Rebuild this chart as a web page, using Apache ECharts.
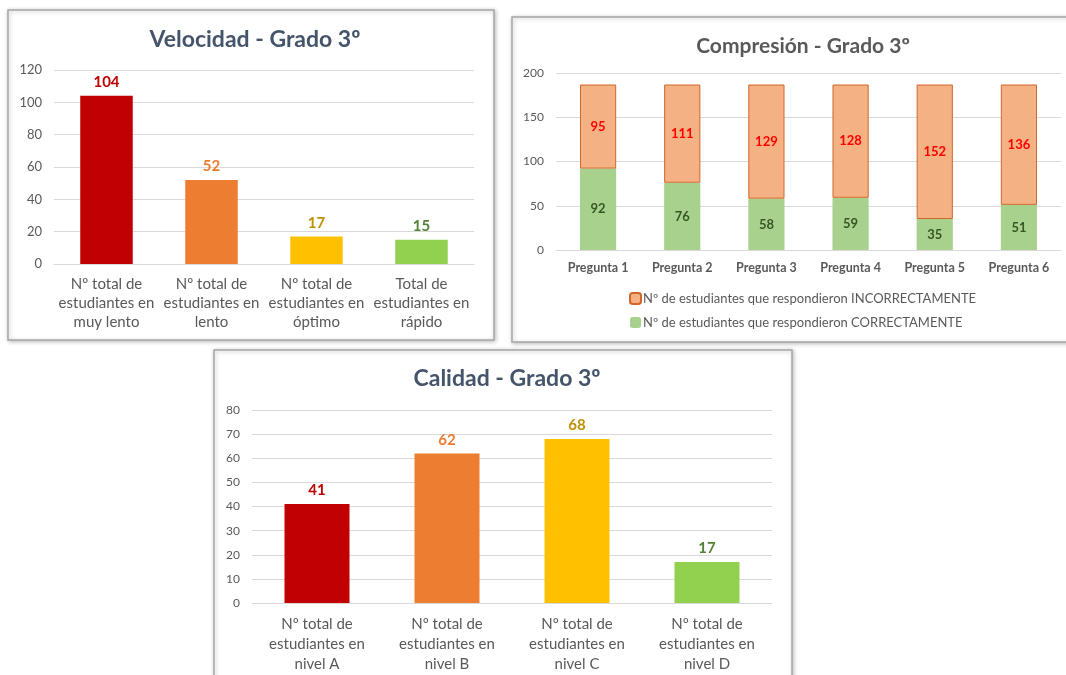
<!DOCTYPE html>
<html>
<head>
<meta charset="utf-8">
<script src="https://cdn.jsdelivr.net/npm/echarts@6/dist/echarts.min.js"></script>
<style>
  html, body { margin: 0; padding: 0; background: #fff; }
  #main { width: 1066px; height: 675px; }
</style>
</head>
<body>
<div id="main"></div>
<script>
// Velocidad - Grado 3º
const velCategories = [
  "Nº total de\nestudiantes en\nmuy lento",
  "Nº total de\nestudiantes en\nlento",
  "Nº total de\nestudiantes en\nóptimo",
  "Total de\nestudiantes en\nrápido"
];
const velValues = [104, 52, 17, 15];

// Compresión - Grado 3º
const compCategories = ["Pregunta 1", "Pregunta 2", "Pregunta 3", "Pregunta 4", "Pregunta 5", "Pregunta 6"];
const compCorrect = [92, 76, 58, 59, 35, 51];
const compIncorrect = [95, 111, 129, 128, 152, 136];
const compNames = [
  "Nº de estudiantes que respondieron INCORRECTAMENTE",
  "Nº de estudiantes que respondieron CORRECTAMENTE"
];

// Calidad - Grado 3º
const calCategories = [
  "Nº total de\nestudiantes en\nnivel A",
  "Nº total de\nestudiantes en\nnivel B",
  "Nº total de\nestudiantes en\nnivel C",
  "Nº total de\nestudiantes en\nnivel D"
];
const calValues = [41, 62, 68, 17];

// colores (rojo, naranja, amarillo, verde)
const barColors = ["#C00000", "#ED7D31", "#FFC000", "#92D050"];
const labelColors = ["#C00000", "#ED7D31", "#BF9000", "#548235"];

const FONT = "Lato, 'Open Sans', sans-serif";
const AXIS_TEXT = "#595959";
const GRID_LINE = "#D9D9D9";

const myChart = echarts.init(document.getElementById("main"));

function coloredData(values) {
  return values.map((v, i) => ({
    value: v,
    itemStyle: { color: barColors[i] },
    label: { color: labelColors[i] }
  }));
}

function valueAxis(gridIndex, max, interval, fontSize) {
  return {
    type: "value",
    gridIndex: gridIndex,
    min: 0,
    max: max,
    interval: interval,
    axisLine: { show: false },
    axisTick: { show: false },
    axisLabel: { color: AXIS_TEXT, fontFamily: FONT, fontSize: fontSize, margin: 12 },
    splitLine: { lineStyle: { color: GRID_LINE, width: 1 } }
  };
}

function categoryAxis(gridIndex, data, fontSize, lineHeight, bold) {
  return {
    type: "category",
    gridIndex: gridIndex,
    data: data,
    axisLine: { lineStyle: { color: GRID_LINE } },
    axisTick: { show: false },
    axisLabel: {
      color: AXIS_TEXT,
      fontFamily: FONT,
      fontSize: fontSize,
      lineHeight: lineHeight,
      fontWeight: bold ? "bold" : "normal",
      margin: 11,
      interval: 0
    }
  };
}

const boxStyle = {
  fill: "#fff",
  stroke: "#A6A6A6",
  lineWidth: 1.5,
  shadowBlur: 4,
  shadowColor: "rgba(0,0,0,0.25)",
  shadowOffsetX: 1,
  shadowOffsetY: 1
};

const option = {
  animation: false,
  backgroundColor: "#fff",
  textStyle: { fontFamily: FONT },
  graphic: [
    { type: "rect", z: -10, shape: { x: 8, y: 10, width: 486, height: 330 }, style: boxStyle },
    { type: "rect", z: -10, shape: { x: 512, y: 17, width: 570, height: 325 }, style: boxStyle },
    { type: "rect", z: -10, shape: { x: 214, y: 350, width: 578, height: 340 }, style: boxStyle }
  ],
  title: [
    {
      text: "Velocidad - Grado 3º",
      left: 250, top: 23, textAlign: "center",
      textStyle: { color: "#44546A", fontSize: 23, fontWeight: "bold", fontFamily: FONT }
    },
    {
      text: "Compresión - Grado 3º",
      left: 798, top: 31, textAlign: "center",
      textStyle: { color: "#595959", fontSize: 21, fontWeight: "bold", fontFamily: FONT }
    },
    {
      text: "Calidad - Grado 3º",
      left: 502, top: 362, textAlign: "center",
      textStyle: { color: "#44546A", fontSize: 23, fontWeight: "bold", fontFamily: FONT }
    }
  ],
  legend: {
    orient: "vertical",
    left: 624,
    top: 287,
    itemWidth: 11,
    itemHeight: 11,
    itemGap: 11,
    data: compNames,
    textStyle: { color: AXIS_TEXT, fontSize: 13, fontFamily: FONT, padding: [0, 0, 0, -3] }
  },
  grid: [
    { left: 54, top: 70, width: 420, height: 194 },
    { left: 556, top: 73, width: 505, height: 177 },
    { left: 252, top: 410, width: 520, height: 193 }
  ],
  xAxis: [
    categoryAxis(0, velCategories, 15, 19, false),
    categoryAxis(1, compCategories, 12.5, 14, true),
    categoryAxis(2, calCategories, 15, 20, false)
  ],
  yAxis: [
    valueAxis(0, 120, 20, 13),
    valueAxis(1, 200, 50, 12),
    valueAxis(2, 80, 10, 12)
  ],
  series: [
    {
      type: "bar",
      xAxisIndex: 0, yAxisIndex: 0,
      barWidth: "50%",
      data: coloredData(velValues),
      label: { show: true, position: "top", fontWeight: "bold", fontSize: 15, fontFamily: FONT, distance: 6 }
    },
    {
      name: compNames[1],
      type: "bar",
      stack: "comp",
      xAxisIndex: 1, yAxisIndex: 1,
      barWidth: "43%",
      data: compCorrect,
      itemStyle: { color: "#A9D18E" },
      label: { show: true, position: "inside", color: "#375623", fontWeight: "bold", fontSize: 13, fontFamily: FONT }
    },
    {
      name: compNames[0],
      type: "bar",
      stack: "comp",
      xAxisIndex: 1, yAxisIndex: 1,
      barWidth: "43%",
      data: compIncorrect,
      itemStyle: { color: "#F4B183", borderColor: "#D0662A", borderWidth: 1 },
      label: { show: true, position: "inside", color: "#FF0000", fontWeight: "bold", fontSize: 13, fontFamily: FONT }
    },
    {
      type: "bar",
      xAxisIndex: 2, yAxisIndex: 2,
      barWidth: "50%",
      data: coloredData(calValues),
      label: { show: true, position: "top", fontWeight: "bold", fontSize: 15, fontFamily: FONT, distance: 6 }
    }
  ]
};

myChart.setOption(option);
</script>
</body>
</html>
